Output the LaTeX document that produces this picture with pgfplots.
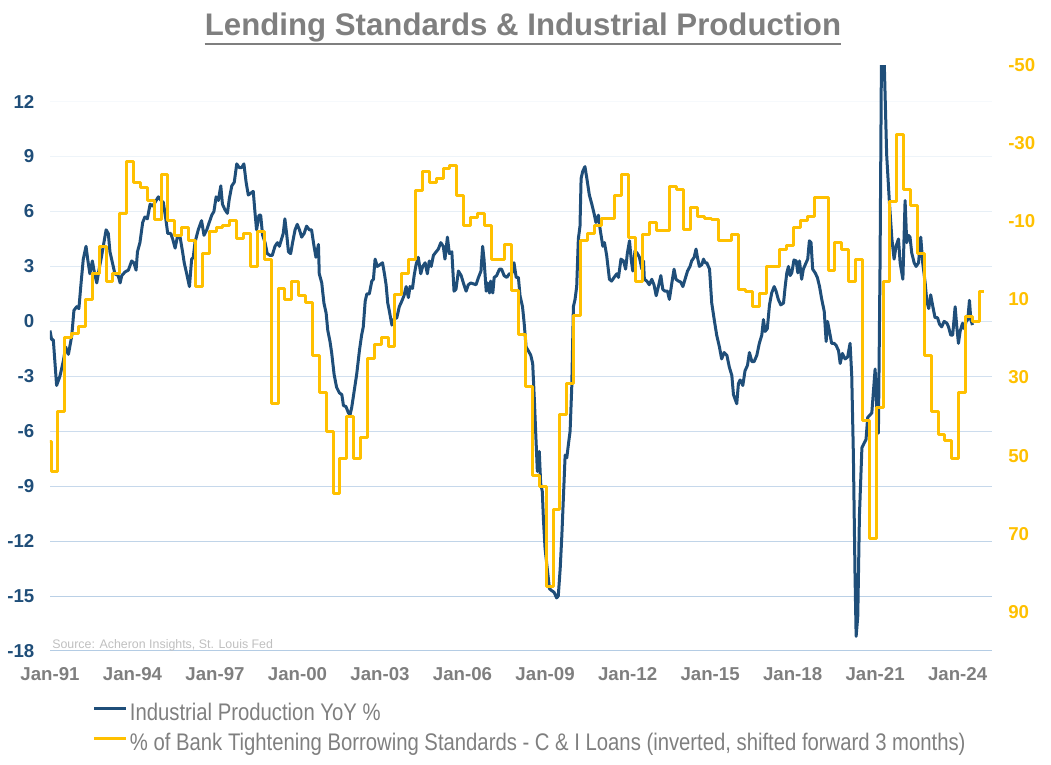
\documentclass[border=0pt]{standalone}
\usepackage{pgfplots}
\pgfplotsset{compat=1.18}
\usepackage{pgfplotstable}
\usepackage{fontspec}
\setmainfont{Liberation Sans}
\newfontfamily\narrowfont[FakeStretch=0.845]{Liberation Sans}
\definecolor{ipblue}{HTML}{1F4E79}
\definecolor{lsgold}{HTML}{FFC000}
\definecolor{txtgray}{HTML}{7F7F7F}
\definecolor{srcgray}{HTML}{BFBFBF}
\definecolor{gridblue}{HTML}{B4CCE4}

\pgfplotstableread{
t v
1990.75 46.4
1991.00 54.1
1991.25 38.6
1991.50 19.8
1991.75 18.7
1992.00 16.9
1992.25 10.0
1992.50 3.4
1992.75 -3.6
1993.00 5.3
1993.25 3.4
1993.50 -12.0
1993.75 -25.2
1994.00 -20.0
1994.25 -18.6
1994.50 -15.3
1994.75 -10.4
1995.00 -22.1
1995.25 -10.2
1995.50 -6.4
1995.75 -8.3
1996.00 -5.0
1996.25 6.7
1996.50 -1.7
1996.75 -7.3
1997.00 -8.3
1997.25 -8.8
1997.50 -10.2
1997.75 -5.5
1998.00 -6.9
1998.25 1.6
1998.50 -7.3
1998.75 -0.3
1999.00 36.7
1999.25 7.2
1999.50 10.0
1999.75 5.5
2000.00 9.1
2000.25 10.9
2000.50 24.3
2000.75 33.9
2001.00 43.8
2001.25 59.7
2001.50 50.8
2001.75 40.0
2002.00 50.8
2002.25 45.4
2002.50 25.0
2002.75 21.5
2003.00 19.8
2003.25 22.0
2003.50 8.8
2003.75 3.4
2004.00 -0.1
2004.25 -17.9
2004.50 -22.8
2004.75 -20.0
2005.00 -21.0
2005.25 -23.5
2005.50 -24.2
2005.75 -16.7
2006.00 -8.8
2006.25 -10.9
2006.50 -12.0
2006.75 -8.8
2007.00 -0.1
2007.25 -0.1
2007.50 -4.1
2007.75 7.7
2008.00 19.1
2008.25 32.3
2008.50 55.2
2008.75 57.8
2009.00 83.6
2009.25 63.9
2009.50 39.5
2009.75 31.6
2010.00 14.2
2010.25 -5.2
2010.50 -6.9
2010.75 -8.8
2011.00 -10.6
2011.25 -10.6
2011.50 -16.7
2011.75 -21.9
2012.00 -5.9
2012.25 5.5
2012.50 -6.6
2012.75 -9.7
2013.00 -7.6
2013.25 -7.6
2013.50 -18.8
2013.75 -18.1
2014.00 -8.0
2014.25 -13.4
2014.50 -11.1
2014.75 -10.6
2015.00 -10.4
2015.25 -5.2
2015.50 -5.2
2015.75 -6.6
2016.00 7.4
2016.25 8.1
2016.50 11.9
2016.75 8.6
2017.00 1.6
2017.25 1.6
2017.50 -2.7
2017.75 -3.8
2018.00 -8.3
2018.25 -10.2
2018.50 -11.1
2018.75 -16.0
2019.00 -16.0
2019.25 2.5
2019.50 -4.5
2019.75 -2.9
2020.00 5.3
2020.25 -0.1
2020.50 40.9
2020.75 71.2
2021.00 37.7
2021.25 5.5
2021.50 -15.1
2021.75 -32.2
2022.00 -18.1
2022.25 -14.1
2022.50 -1.7
2022.75 24.3
2023.00 38.8
2023.25 44.7
2023.50 46.1
2023.75 50.8
2024.00 33.9
2024.25 14.5
2024.50 15.6
2024.75 8.1
2024.92 8.1
}\lendtab

\begin{document}
\begin{tikzpicture}[x=0.75pt,y=0.75pt]
\useasboundingbox (0,0) rectangle (1051,765);
\foreach \i/\c in {0/100,1/92,2/84,3/76,4/68,5/60,6/52,7/42,8/32,9/22,10/12} {
  \draw[gridblue!\c, line width=0.75pt] (50,{114+\i*54.9375}) -- (992,{114+\i*54.9375});
}
\node[anchor=base, inner sep=0pt, font=\bfseries\fontsize{23.4}{28}\selectfont, text=txtgray] (T) at (523,729) {Lending Standards \& Industrial Production};
\draw[txtgray, line width=1.5pt] ([yshift=-6pt]T.base west) -- ([yshift=-6pt]T.base east);
\node[anchor=base west, inner sep=0pt, font=\fontsize{9.3}{11}\selectfont, text=srcgray] at (52,116) {Source: Acheron Insights, St. Louis Fed};

\begin{axis}[at={(37.5pt,85.5pt)}, anchor=south west, scale only axis,
  width=706.5pt, height=439.5pt,
  xmin=1991, xmax=2025.25, ymin=-18, ymax=14,
  axis line style={draw=none}, major tick length=0pt,
  xtick={1991,1994,1997,2000,2003,2006,2009,2012,2015,2018,2021,2024},
  xticklabels={Jan-91,Jan-94,Jan-97,Jan-00,Jan-03,Jan-06,Jan-09,Jan-12,Jan-15,Jan-18,Jan-21,Jan-24},
  ytick={-18,-15,-12,-9,-6,-3,0,3,6,9,12},
  yticklabels={-18,-15,-12,-9,-6,-3,0,3,6,9,12},
  xticklabel style={font=\bfseries\fontsize{14}{16}\selectfont, text=txtgray, anchor=center, inner sep=0pt, yshift=-17.25pt},
  yticklabel style={font=\bfseries\fontsize{14}{16}\selectfont, text=ipblue, anchor=east, inner sep=0pt, xshift=-11.6pt},
]
\addplot[ipblue, line width=2.25pt, line join=round] coordinates {
(1991.00,-0.5) (1991.06,-1.0) (1991.12,-1.0) (1991.24,-3.5) (1991.36,-3.0) (1991.48,-2.2) (1991.57,-1.4) (1991.67,-1.8) (1991.79,-0.8) (1991.87,0.6) (1991.97,0.8)
(1992.05,0.7) (1992.13,2.1) (1992.21,3.4) (1992.31,4.1) (1992.37,3.4) (1992.45,2.6) (1992.54,3.3) (1992.61,2.7) (1992.70,2.1) (1992.78,2.8) (1992.88,3.6) (1992.96,4.3)
(1993.04,5.0) (1993.12,4.8) (1993.18,3.8) (1993.27,3.2) (1993.36,2.6) (1993.48,2.5) (1993.55,2.1) (1993.61,2.5) (1993.73,2.7) (1993.85,2.8) (1993.97,3.3)
(1994.05,3.2) (1994.13,2.8) (1994.18,3.8) (1994.27,4.3) (1994.37,5.4) (1994.45,5.7) (1994.54,5.6) (1994.64,6.4) (1994.73,6.3) (1994.82,6.5) (1994.94,6.8)
(1995.04,6.6) (1995.12,6.5) (1995.21,5.6) (1995.28,4.8) (1995.39,4.8) (1995.46,4.5) (1995.55,4.0) (1995.63,4.6) (1995.73,4.6) (1995.82,3.8) (1995.88,3.2) (1995.97,2.6)
(1996.07,1.9) (1996.15,3.4) (1996.21,3.5) (1996.27,4.3) (1996.39,5.0) (1996.51,5.5) (1996.60,4.7) (1996.70,5.0) (1996.79,5.4) (1996.88,5.8) (1996.96,6.0)
(1997.04,6.8) (1997.12,6.6) (1997.21,7.4) (1997.27,6.4) (1997.36,6.1) (1997.45,5.9) (1997.52,6.7) (1997.61,7.4) (1997.70,7.6) (1997.79,8.6) (1997.88,8.4) (1997.97,8.4)
(1998.05,8.6) (1998.13,7.6) (1998.21,6.9) (1998.30,7.0) (1998.39,7.1) (1998.45,6.0) (1998.51,5.0) (1998.60,5.8) (1998.66,5.8) (1998.73,4.7) (1998.82,4.3) (1998.90,3.7)
(1999.00,3.6) (1999.08,3.6) (1999.18,4.1) (1999.27,4.3) (1999.34,4.1) (1999.42,4.5) (1999.48,4.8) (1999.54,5.6) (1999.61,4.7) (1999.67,3.8) (1999.75,3.7) (1999.82,4.3) (1999.91,5.0) (1999.99,5.3)
(2000.07,5.0) (2000.15,4.6) (2000.24,4.8) (2000.33,5.2) (2000.43,5.0) (2000.51,5.0) (2000.60,4.1) (2000.67,3.5) (2000.76,4.2) (2000.79,2.6) (2000.88,2.1) (2000.96,1.0)
(2001.04,0.45) (2001.10,-0.5) (2001.18,-1.1) (2001.24,-1.7) (2001.33,-2.9) (2001.42,-3.6) (2001.52,-3.9) (2001.61,-4.0) (2001.67,-4.6) (2001.76,-4.65) (2001.85,-5.0) (2001.91,-5.1) (2001.97,-4.7)
(2002.06,-3.8) (2002.15,-2.9) (2002.25,-1.6) (2002.33,-0.75) (2002.39,-0.3) (2002.46,1.1) (2002.52,1.5) (2002.61,1.5) (2002.70,2.2) (2002.76,2.3) (2002.82,3.4) (2002.90,3.0)
(2003.00,3.1) (2003.09,3.2) (2003.16,2.6) (2003.22,2.0) (2003.28,1.0) (2003.34,0.55) (2003.43,-0.2) (2003.49,0.1) (2003.61,0.2) (2003.70,0.8) (2003.79,1.1) (2003.87,1.4) (2003.95,1.9)
(2004.03,1.3) (2004.09,1.9) (2004.18,1.8) (2004.24,2.5) (2004.31,3.1) (2004.39,3.5) (2004.48,2.6) (2004.55,3.0) (2004.64,3.2) (2004.72,2.6) (2004.79,3.3) (2004.86,3.0) (2004.94,3.6)
(2005.04,3.8) (2005.12,3.95) (2005.21,4.3) (2005.30,4.1) (2005.36,3.4) (2005.45,4.6) (2005.52,3.7) (2005.61,3.8) (2005.69,1.65) (2005.76,1.75) (2005.85,2.75) (2005.95,2.5)
(2006.03,2.1) (2006.13,1.65) (2006.21,2.0) (2006.30,2.1) (2006.39,2.05) (2006.49,2.0) (2006.58,2.4) (2006.67,2.75) (2006.73,4.1) (2006.78,3.4) (2006.86,1.65) (2006.90,2.1) (2006.98,1.55)
(2007.02,2.2) (2007.10,1.55) (2007.15,2.4) (2007.24,2.5) (2007.34,2.85) (2007.42,2.85) (2007.51,2.5) (2007.61,2.4) (2007.70,2.6) (2007.79,2.6) (2007.87,3.2) (2007.95,2.4)
(2008.03,2.4) (2008.09,1.4) (2008.18,0.8) (2008.24,-0.1) (2008.31,-1.4) (2008.39,-1.6) (2008.48,-1.85) (2008.55,-2.3) (2008.61,-4.25) (2008.67,-6.45) (2008.72,-8.2) (2008.79,-7.1) (2008.84,-8.85) (2008.90,-9.3) (2008.94,-10.8)
(2009.00,-12.4) (2009.08,-13.5) (2009.16,-14.6) (2009.24,-14.7) (2009.33,-14.8) (2009.42,-15.1) (2009.48,-15.0) (2009.55,-13.5) (2009.61,-11.7) (2009.67,-9.5) (2009.73,-7.3) (2009.79,-7.45) (2009.85,-6.7) (2009.91,-6.0) (2009.97,-3.6)
(2010.03,0.8) (2010.09,1.2) (2010.15,1.9) (2010.21,4.5) (2010.27,5.2) (2010.31,7.8) (2010.37,8.2) (2010.45,8.45) (2010.52,7.8) (2010.61,6.9) (2010.70,6.4) (2010.78,5.9) (2010.85,5.4) (2010.94,5.8)
(2011.00,5.05) (2011.10,4.1) (2011.16,4.3) (2011.24,3.6) (2011.34,2.3) (2011.42,2.2) (2011.51,2.4) (2011.61,2.6) (2011.67,2.4) (2011.76,3.4) (2011.85,3.3) (2011.93,2.85) (2011.99,3.7)
(2012.07,4.4) (2012.13,3.4) (2012.19,2.75) (2012.27,3.85) (2012.36,3.7) (2012.43,3.5) (2012.52,2.85) (2012.58,3.3) (2012.61,2.3) (2012.70,2.2) (2012.79,2.0) (2012.88,2.3) (2012.96,2.0)
(2013.04,1.4) (2013.12,1.9) (2013.21,2.5) (2013.28,1.75) (2013.36,1.65) (2013.45,1.65) (2013.52,1.2) (2013.61,2.1) (2013.69,2.85) (2013.76,2.3) (2013.85,2.2) (2013.93,2.15)
(2014.01,1.9) (2014.09,2.3) (2014.18,2.75) (2014.27,3.0) (2014.33,3.3) (2014.42,3.5) (2014.49,3.95) (2014.54,3.5) (2014.61,3.0) (2014.70,3.1) (2014.76,3.4) (2014.82,3.2) (2014.88,3.2) (2014.98,2.85)
(2015.06,1.0) (2015.16,0.0) (2015.24,-0.75) (2015.34,-1.4) (2015.42,-2.05) (2015.51,-1.7) (2015.61,-1.85) (2015.70,-2.5) (2015.79,-2.95) (2015.85,-4.0) (2015.91,-4.25) (2015.97,-4.5)
(2016.03,-3.4) (2016.09,-3.2) (2016.19,-3.5) (2016.27,-2.7) (2016.36,-2.4) (2016.43,-1.7) (2016.52,-2.2) (2016.60,-2.2) (2016.70,-1.85) (2016.79,-1.2) (2016.88,-0.75) (2016.94,0.1)
(2017.00,-0.55) (2017.08,-0.4) (2017.16,0.9) (2017.24,1.55) (2017.33,1.9) (2017.40,1.65) (2017.48,1.2) (2017.57,0.9) (2017.67,1.0) (2017.73,1.9) (2017.79,2.65) (2017.85,3.0) (2017.91,2.5) (2017.97,2.65)
(2018.05,3.35) (2018.13,3.3) (2018.19,2.65) (2018.25,3.3) (2018.33,2.3) (2018.39,2.85) (2018.49,3.2) (2018.55,3.4) (2018.61,4.4) (2018.67,4.3) (2018.73,2.85) (2018.82,2.65) (2018.90,2.4) (2018.98,1.9)
(2019.06,1.2) (2019.15,0.55) (2019.22,-1.1) (2019.27,0.0) (2019.34,-0.55) (2019.42,-1.2) (2019.51,-1.2) (2019.58,-1.3) (2019.67,-1.6) (2019.73,-2.3) (2019.81,-1.75) (2019.91,-2.05)
(2020.00,-1.95) (2020.09,-1.2) (2020.15,-2.95) (2020.21,-7.3) (2020.27,-13.9) (2020.31,-17.2) (2020.37,-16.1) (2020.43,-10.6) (2020.52,-6.9) (2020.60,-6.65) (2020.67,-6.45) (2020.73,-5.25) (2020.79,-5.15) (2020.88,-5.0) (2020.94,-3.8)
(2021.00,-2.6) (2021.06,-4.7) (2021.12,-6.1) (2021.18,3.2) (2021.24,16.5) (2021.28,16.0) (2021.34,13.7) (2021.42,9.1) (2021.52,6.5) (2021.61,4.5) (2021.69,3.4) (2021.76,4.1) (2021.85,4.5) (2021.91,3.2)
(2022.01,2.3) (2022.09,6.6) (2022.15,4.3) (2022.21,4.7) (2022.27,4.6) (2022.33,3.75) (2022.42,3.2) (2022.49,3.0) (2022.58,3.2) (2022.66,4.6) (2022.73,3.2) (2022.82,2.1) (2022.88,1.1) (2022.95,0.7)
(2023.02,1.45) (2023.10,0.8) (2023.18,0.2) (2023.27,0.2) (2023.34,-0.15) (2023.42,-0.3) (2023.51,0.0) (2023.61,-0.1) (2023.67,-0.3) (2023.75,-0.75) (2023.82,-0.75) (2023.91,0.8) (2023.97,-0.3)
(2024.03,-1.2) (2024.09,-0.55) (2024.18,-0.1) (2024.24,-0.4) (2024.31,0.0) (2024.37,0.1) (2024.43,1.15) (2024.48,0.1) (2024.54,-0.2)
};
\end{axis}

\begin{axis}[at={(37.5pt,85.5pt)}, anchor=south west, scale only axis,
  width=706.5pt, height=439.5pt,
  xmin=1991, xmax=2025.25, ymin=-50, ymax=100, y dir=reverse,
  axis x line=none, axis y line*=right,
  axis line style={draw=none}, major tick length=0pt,
  ytick={-50,-30,-10,10,30,50,70,90},
  yticklabels={-50,-30,-10,10,30,50,70,90},
  yticklabel style={font=\bfseries\fontsize{14}{16}\selectfont, text=lsgold, anchor=west, inner sep=0pt, xshift=12pt},
  legend style={at={(axis description cs:0.0456,-0.0887)}, anchor=north west, draw=none, fill=none,
    inner sep=0pt, outer sep=0pt, font=\narrowfont\fontsize{18}{21}\selectfont, text=txtgray,
    row sep=5.5pt, column sep=1.5pt, nodes={inner sep=0pt, text height=13pt, text depth=4pt}},
  legend cell align=left,
  legend image code/.code={\draw[#1] (0pt,4.5pt) -- (24pt,4.5pt);},
]
\addlegendimage{ipblue, line width=2.25pt}
\addlegendentry{Industrial Production YoY \%}
\addlegendimage{lsgold, line width=2.25pt}
\addlegendentry{\% of Bank Tightening Borrowing Standards - C \& I Loans (inverted, shifted forward 3 months)}
\addplot[forget plot, const plot, lsgold, line width=2.25pt, line join=round] table[x expr=\thisrow{t}+0.04, y=v] {\lendtab};
\end{axis}
\end{tikzpicture}
\end{document}
